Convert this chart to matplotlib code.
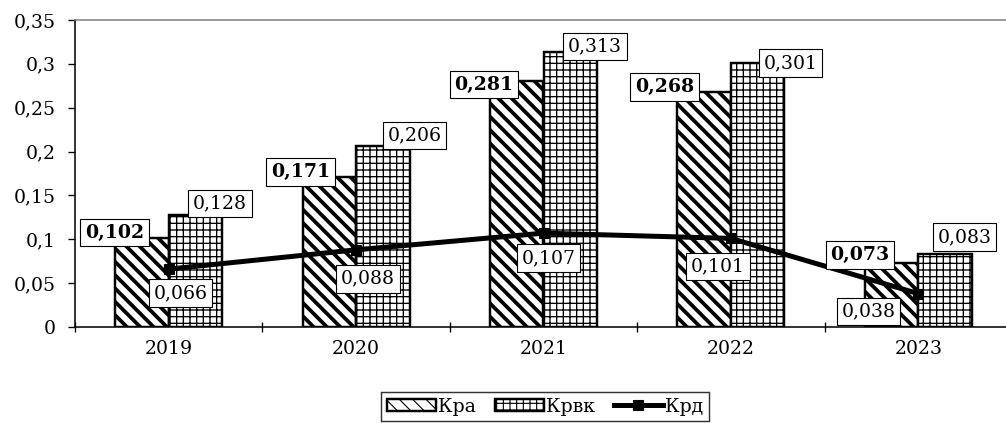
import matplotlib
matplotlib.use("Agg")
import matplotlib.pyplot as plt
import numpy as np
from matplotlib.ticker import FixedLocator, FuncFormatter

# --- data ---
years = ["2019", "2020", "2021", "2022", "2023"]
kra = [0.102, 0.171, 0.281, 0.268, 0.073]      # Кра
krvk = [0.128, 0.206, 0.313, 0.301, 0.083]     # Крвк
krd = [0.066, 0.088, 0.107, 0.101, 0.038]      # Крд
series_names = ["Кра", "Крвк", "Крд"]
y_ticks = [0, 0.05, 0.1, 0.15, 0.2, 0.25, 0.3, 0.35]

# label placement (pixel offsets of box centres from the anchor point)
kra_offsets = [(-1, 5), (-2, 5), (-6, -4), (-13, 5), (-5, 8)]
krvk_offsets = [(-2, 11), (5, 11), (-2, 6), (6, 0), (-7, 17)]
krd_offsets = [(12, -24), (12, -29), (5, -25), (-13, -28), (-50, -18)]

DPI = 80
FS = 17

plt.rcParams["font.family"] = ["DejaVu Serif"]
plt.rcParams["hatch.color"] = "black"


def comma(v, fmt):
    return fmt.format(v).replace(".", ",")


fig = plt.figure(figsize=(1006 / DPI, 423 / DPI), dpi=DPI)
ax = fig.add_axes([75 / 1006, 96 / 423, 937 / 1006, 307 / 423])

x = np.arange(len(years))
w = 0.285

with plt.rc_context({"hatch.linewidth": 3.4}):
    bars_a = ax.bar(x - w / 2, kra, w, facecolor="white", edgecolor="black",
                    linewidth=2.2, hatch="\\\\", label=series_names[0], zorder=2)
with plt.rc_context({"hatch.linewidth": 1.2}):
    bars_b = ax.bar(x + w / 2, krvk, w, facecolor="white", edgecolor="black",
                    linewidth=2.2, hatch="++", label=series_names[1], zorder=2)

for bars, lw in ((bars_a, 3.4), (bars_b, 1.2)):
    for p in bars:
        if hasattr(p, "set_hatch_linewidth"):
            p.set_hatch_linewidth(lw)

line, = ax.plot(x, krd, color="black", linewidth=4.5, marker="s",
                markersize=9, label=series_names[2], zorder=3)

box = dict(boxstyle="square,pad=0.25", facecolor="white", edgecolor="black",
           linewidth=1.0)

for i in range(len(years)):
    ax.annotate(comma(kra[i], "{:.3f}"), xy=(x[i] - w, kra[i]),
                xytext=kra_offsets[i], textcoords="offset pixels",
                ha="center", va="center", fontsize=FS, fontweight="bold",
                bbox=box, zorder=5)
    ax.annotate(comma(krvk[i], "{:.3f}"), xy=(x[i] + w, krvk[i]),
                xytext=krvk_offsets[i], textcoords="offset pixels",
                ha="center", va="center", fontsize=FS, bbox=box, zorder=5)
    ax.annotate(comma(krd[i], "{:.3f}"), xy=(x[i], krd[i]),
                xytext=krd_offsets[i], textcoords="offset pixels",
                ha="center", va="center", fontsize=FS, bbox=box, zorder=5)

ax.set_xlim(-0.5, len(years) - 0.5)
ax.set_ylim(0, 0.35)

ax.set_yticks(y_ticks)
ax.yaxis.set_major_formatter(FuncFormatter(
    lambda v, _: "0" if v == 0 else comma(v, "{:g}")))
ax.tick_params(axis="y", direction="out", length=6.3, width=1.2,
               pad=11, labelsize=FS)

ax.set_xticks(x)
ax.set_xticklabels(years)
ax.xaxis.set_minor_locator(FixedLocator(np.arange(-0.5, len(years), 1.0)))
ax.tick_params(axis="x", which="major", length=0, pad=12, labelsize=FS)
ax.tick_params(axis="x", which="minor", direction="inout", length=9, width=1.2)

for s in ("left", "bottom"):
    ax.spines[s].set_linewidth(1.4)
    ax.spines[s].set_color("black")
ax.spines["top"].set_color("#808080")
ax.spines["top"].set_linewidth(1.4)
ax.spines["right"].set_visible(False)

leg = fig.legend(handles=[bars_a, bars_b, line], loc="upper center",
                 bbox_to_anchor=(545 / 1006, 1 - 392 / 423), ncol=3,
                 fontsize=FS, frameon=True, fancybox=False, edgecolor="black",
                 handlelength=2.6, handleheight=0.6, handletextpad=0.1,
                 columnspacing=1.0, borderpad=0.3, borderaxespad=0)
leg.get_frame().set_linewidth(1.3)

fig.savefig("out.png", dpi=DPI)
